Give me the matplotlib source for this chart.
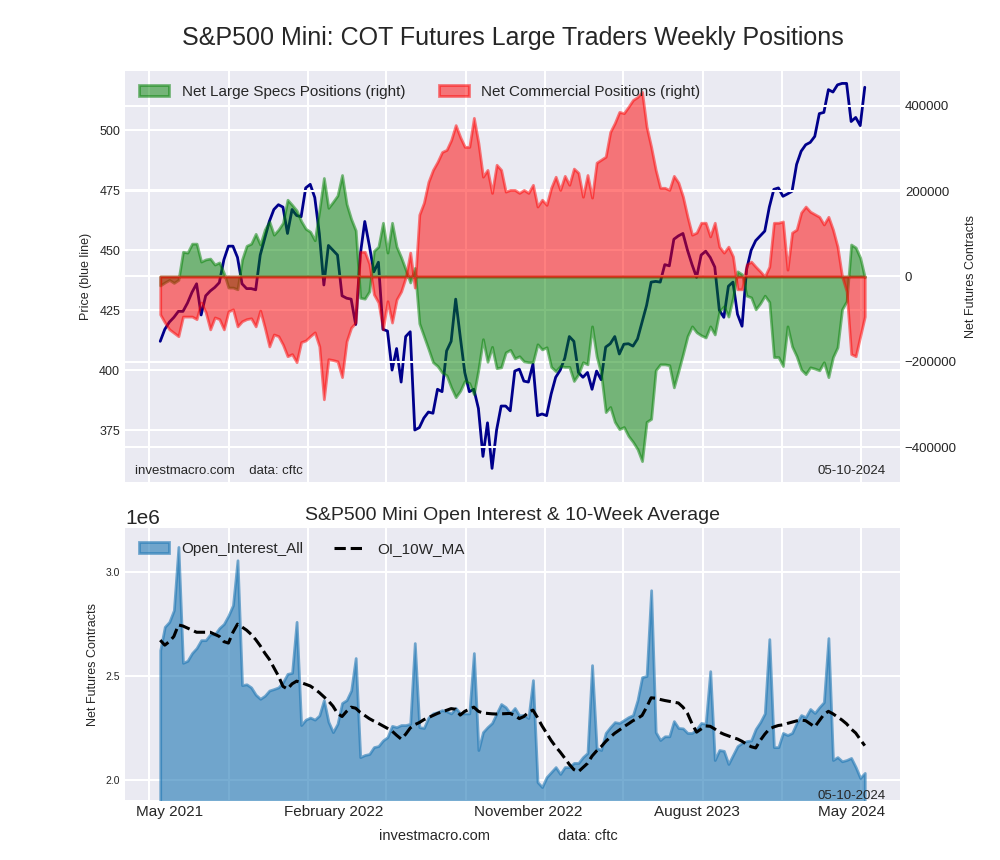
import numpy as np
import pandas as pd
import matplotlib
matplotlib.use("Agg")
import matplotlib.pyplot as plt
import matplotlib.dates as mdates
from matplotlib.ticker import MultipleLocator, NullFormatter, FixedLocator, FixedFormatter

# weekly report dates (Tuesdays)
dates = pd.date_range("2021-05-18", periods=156, freq="7D")

# S&P500 mini price (/10), blue line, left axis
price = [412, 417, 420, 422, 424.5, 424.5, 428, 432.5, 436, 423,
         431, 433, 434.5, 436.5, 446, 451.7, 451.7, 447, 436, 434,
         434, 433.5, 448, 455, 462, 467, 469, 468, 457, 467,
         464.5, 464, 476, 477.5, 472, 457, 435.5, 452, 450, 448,
         431, 430, 429.6, 419, 448, 462, 452, 441, 445, 417,
         416.3, 400, 409, 395, 414, 416, 375, 376, 380, 382.5,
         382, 392, 391, 408, 412, 429.6, 414, 399, 391, 392,
         384, 364, 378, 359, 375, 385, 385, 383, 399.6, 400.4,
         395.4, 395, 402.5, 381, 381.7, 381, 390, 397, 400, 405,
         414, 412, 399, 397, 399, 392, 399.6, 396, 409.6, 411,
         414, 406.7, 410.8, 411, 410, 413, 420, 427, 436.7, 437,
         436.7, 444, 443.5, 454.6, 456, 457, 450, 444, 438.7, 448,
         449.6, 447, 443, 425, 422, 435, 436.7, 423.3, 418.3, 442,
         450, 454, 456, 458, 468, 475.4, 476, 472.5, 473.5, 474.6,
         485.8, 491.3, 494, 495, 497.5, 507, 507.5, 517, 516, 519,
         519.6, 519.6, 503.7, 505.4, 502, 518]

# net large speculator positions (green, right axis)
net_specs = [-21000, -14000, -8000, -15000, -8000, 58000, 56000, 77000, 77000, 35000,
             40000, 42000, 28000, 33000, 8000, -26000, -26000, -30000, 40000, 72000,
             77000, 100000, 75000, 110000, 129000, 98000, 110000, 126000, 180000, 168000,
             155000, 130000, 112000, 105000, 85000, 155000, 231000, 161000, 175000, 190000,
             238000, 170000, 135000, 108000, -50000, -52000, -35000, 60000, 70000, 126000,
             56000, 126000, 70000, 45000, 16000, -14000, 20000, -110000, -140000, -170000,
             -201000, -210000, -225000, -232000, -260000, -283000, -268000, -245000, -250000, -276000,
             -218000, -147000, -200000, -165000, -215000, -213000, -178000, -172000, -192000, -187000,
             -199000, -201000, -201000, -159000, -171000, -166000, -212000, -222000, -210000, -212000,
             -212000, -245000, -229000, -201000, -206000, -117000, -187000, -229000, -318000, -306000,
             -341000, -358000, -353000, -374000, -388000, -405000, -433000, -341000, -334000, -220000,
             -206000, -206000, -208000, -260000, -222000, -182000, -140000, -117000, -131000, -138000,
             -143000, -117000, -136000, -82000, -70000, -94000, -50000, 12000, 5000, -45000,
             -49000, -77000, -63000, -45000, -60000, -189000, -189000, -210000, -117000, -164000,
             -187000, -218000, -229000, -213000, -216000, -220000, -201000, -236000, -189000, -166000,
             -77000, -58000, 75000, 68000, 44000, -2000]

# net commercial positions (red, right axis)
net_comm = [-89000, -108000, -124000, -132000, -140000, -94000, -94000, -94000, -100000, -61000,
            -84000, -124000, -96000, -100000, -124000, -82000, -77000, -117000, -105000, -100000,
            -98000, -117000, -80000, -120000, -164000, -136000, -140000, -160000, -187000, -182000,
            -201000, -154000, -150000, -140000, -131000, -164000, -288000, -194000, -196000, -199000,
            -236000, -152000, -120000, -108000, 58000, 58000, 30000, -42000, -61000, -124000,
            -58000, -108000, -54000, -35000, -2000, 56000, -26000, 145000, 173000, 222000,
            250000, 269000, 292000, 297000, 320000, 355000, 327000, 304000, 304000, 372000,
            313000, 234000, 250000, 196000, 262000, 250000, 199000, 203000, 203000, 196000,
            203000, 196000, 215000, 164000, 180000, 168000, 208000, 234000, 203000, 236000,
            215000, 253000, 243000, 187000, 238000, 185000, 267000, 274000, 281000, 339000,
            360000, 386000, 383000, 398000, 414000, 421000, 433000, 351000, 304000, 250000,
            208000, 208000, 203000, 236000, 220000, 187000, 140000, 98000, 103000, 126000,
            126000, 94000, 126000, 70000, 56000, 70000, 47000, -30000, -30000, 28000,
            35000, 23000, 12000, 0, 23000, 126000, 126000, 129000, 16000, 103000,
            110000, 150000, 164000, 152000, 146000, 140000, 122000, 140000, 110000, 70000,
            0, -35000, -182000, -187000, -140000, -94000]

# open interest, millions of contracts
open_interest = [2.624, 2.736, 2.76, 2.816, 3.12, 2.563, 2.573, 2.61, 2.634, 2.672,
                 2.672, 2.70, 2.70, 2.73, 2.75, 2.79, 2.84, 3.056, 2.456, 2.46,
                 2.445, 2.41, 2.39, 2.405, 2.43, 2.437, 2.445, 2.47, 2.51, 2.515,
                 2.76, 2.264, 2.29, 2.30, 2.29, 2.31, 2.384, 2.28, 2.23, 2.27,
                 2.37, 2.384, 2.43, 2.586, 2.11, 2.12, 2.125, 2.158, 2.163, 2.19,
                 2.206, 2.26, 2.254, 2.264, 2.264, 2.27, 2.658, 2.254, 2.25, 2.30,
                 2.32, 2.326, 2.336, 2.33, 2.32, 2.346, 2.32, 2.32, 2.32, 2.61,
                 2.144, 2.23, 2.254, 2.274, 2.32, 2.365, 2.35, 2.32, 2.346, 2.31,
                 2.313, 2.298, 2.48, 1.99, 1.966, 2.014, 2.038, 2.062, 2.029, 2.062,
                 2.062, 2.082, 2.082, 2.11, 2.13, 2.552, 2.154, 2.144, 2.226, 2.254,
                 2.278, 2.274, 2.288, 2.302, 2.312, 2.384, 2.494, 2.50, 2.912, 2.23,
                 2.192, 2.21, 2.21, 2.283, 2.25, 2.248, 2.226, 2.226, 2.245, 2.274,
                 2.27, 2.523, 2.096, 2.144, 2.14, 2.077, 2.12, 2.163, 2.178, 2.187,
                 2.19, 2.245, 2.278, 2.32, 2.677, 2.158, 2.158, 2.226, 2.216, 2.226,
                 2.274, 2.312, 2.302, 2.341, 2.322, 2.35, 2.374, 2.682, 2.096, 2.11,
                 2.09, 2.096, 2.106, 2.062, 2.01, 2.034]

# 10-week average of open interest, millions
oi_ma = [2.672, 2.648, 2.665, 2.69, 2.745, 2.74, 2.73, 2.72, 2.71, 2.71,
         2.71, 2.71, 2.70, 2.69, 2.665, 2.658, 2.71, 2.749, 2.735, 2.72,
         2.70, 2.675, 2.645, 2.61, 2.58, 2.54, 2.50, 2.45, 2.437, 2.462,
         2.475, 2.468, 2.46, 2.452, 2.437, 2.42, 2.40, 2.38, 2.355, 2.32,
         2.305, 2.33, 2.35, 2.345, 2.325, 2.31, 2.295, 2.283, 2.272, 2.26,
         2.248, 2.235, 2.215, 2.197, 2.22, 2.25, 2.266, 2.276, 2.29, 2.30,
         2.31, 2.32, 2.328, 2.335, 2.343, 2.34, 2.312, 2.33, 2.34, 2.35,
         2.33, 2.322, 2.32, 2.318, 2.317, 2.318, 2.319, 2.32, 2.31, 2.295,
         2.305, 2.325, 2.336, 2.30, 2.26, 2.225, 2.19, 2.16, 2.134, 2.105,
         2.075, 2.05, 2.04, 2.06, 2.08, 2.115, 2.14, 2.16, 2.185, 2.206,
         2.225, 2.24, 2.256, 2.27, 2.285, 2.296, 2.31, 2.35, 2.395, 2.393,
         2.387, 2.382, 2.378, 2.374, 2.37, 2.35, 2.32, 2.27, 2.23, 2.245,
         2.26, 2.258, 2.245, 2.23, 2.22, 2.212, 2.204, 2.197, 2.186, 2.172,
         2.16, 2.154, 2.19, 2.22, 2.245, 2.255, 2.262, 2.265, 2.272, 2.278,
         2.284, 2.288, 2.285, 2.27, 2.255, 2.285, 2.315, 2.33, 2.318, 2.303,
         2.288, 2.27, 2.245, 2.226, 2.195, 2.165]

label_dates = ["2021-06-02", "2022-02-09", "2022-12-06", "2023-08-23", "2024-04-17"]
label_text = ["May 2021", "February 2022", "November 2022", "August 2023", "May 2024"]

plt.style.use("seaborn-v0_8-darkgrid")
plt.rcParams["font.family"] = ["Liberation Sans", "DejaVu Sans"]
plt.rcParams["grid.linewidth"] = 1.5

oi = np.array(open_interest) * 1e6
ma = np.array(oi_ma) * 1e6

fig = plt.figure(figsize=(10, 8.6), dpi=100)
fig.text(0.5125, 1 - 38 / 860, "S&P500 Mini: COT Futures Large Traders Weekly Positions",
         ha="center", va="center", fontsize=18)

# --- top panel: price + positions
ax1 = fig.add_axes([0.125, 0.4395, 0.775, 0.478])
ax1.plot(dates, price, color="darkblue", lw=2)
ax1.set_ylim(353.3, 524.8)
ax1.yaxis.set_major_locator(MultipleLocator(25))
ax1.set_ylabel("Price (blue line)", fontsize=9)
ax1.yaxis.set_label_coords(-0.043, 0.5)
ax1.tick_params(axis="y", labelsize=9)
ax1.xaxis.set_major_locator(mdates.MonthLocator(bymonth=[1, 5, 9]))
ax1.xaxis.set_major_formatter(NullFormatter())
xlim = ax1.get_xlim()

ax2 = ax1.twinx()
ax2.fill_between(dates, 0, net_specs, color="green", alpha=0.5, lw=2,
                 label="Net Large Specs Positions (right)")
ax2.fill_between(dates, 0, net_comm, color="red", alpha=0.5, lw=2,
                 label="Net Commercial Positions (right)")
ax2.set_ylim(-482000, 482000)
ax2.yaxis.set_major_locator(MultipleLocator(200000))
ax2.tick_params(axis="y", labelsize=9.5)
ax2.set_ylabel("Net Futures Contracts", fontsize=9)
ax2.yaxis.set_label_coords(1.084, 0.5)
ax2.legend(loc="upper left", ncol=2, fontsize=11, columnspacing=2.2)
ax2.text(0.013, 0.02, "investmacro.com    data: cftc", transform=ax2.transAxes, fontsize=9.5)
ax2.text(0.982, 0.02, "05-10-2024", transform=ax2.transAxes, ha="right", fontsize=9.5)
ax1.set_xlim(xlim)

# --- bottom panel: open interest
ax3 = fig.add_axes([0.125, 0.0698, 0.775, 0.316])
ax3.fill_between(dates, oi, color="#1f77b4", alpha=0.6, lw=2, label="Open_Interest_All")
ax3.plot(dates, ma, "k--", lw=2.2, label="OI_10W_MA")
ax3.set_xlim(xlim)
ax3.set_ylim(1.904e6, 3.21e6)
ax3.yaxis.set_major_locator(MultipleLocator(5e5))
ax3.tick_params(axis="y", labelsize=7.5)
ax3.yaxis.get_offset_text().set_fontsize(15)
ax3.set_ylabel("Net Futures Contracts", fontsize=9)
ax3.yaxis.set_label_coords(-0.034, 0.5)
ax3.set_title("S&P500 Mini Open Interest & 10-Week Average", fontsize=14)
ax3.xaxis.set_major_locator(mdates.MonthLocator(bymonth=[1, 5, 9]))
ax3.xaxis.set_major_formatter(NullFormatter())
ax3.xaxis.set_minor_locator(FixedLocator(mdates.date2num(pd.to_datetime(label_dates))))
ax3.xaxis.set_minor_formatter(FixedFormatter(label_text))
ax3.tick_params(axis="x", which="minor", labelsize=11, length=0)
ax3.legend(loc="upper left", ncol=2, fontsize=11)
ax3.text(0.982, 0.005, "05-10-2024", transform=ax3.transAxes, ha="right", fontsize=9.5)

fig.text(0.435, 1 - 836 / 860, "investmacro.com", ha="center", va="center", fontsize=10.5)
fig.text(0.588, 1 - 836 / 860, "data: cftc", ha="center", va="center", fontsize=10.5)

fig.savefig("out.png", dpi=100)
